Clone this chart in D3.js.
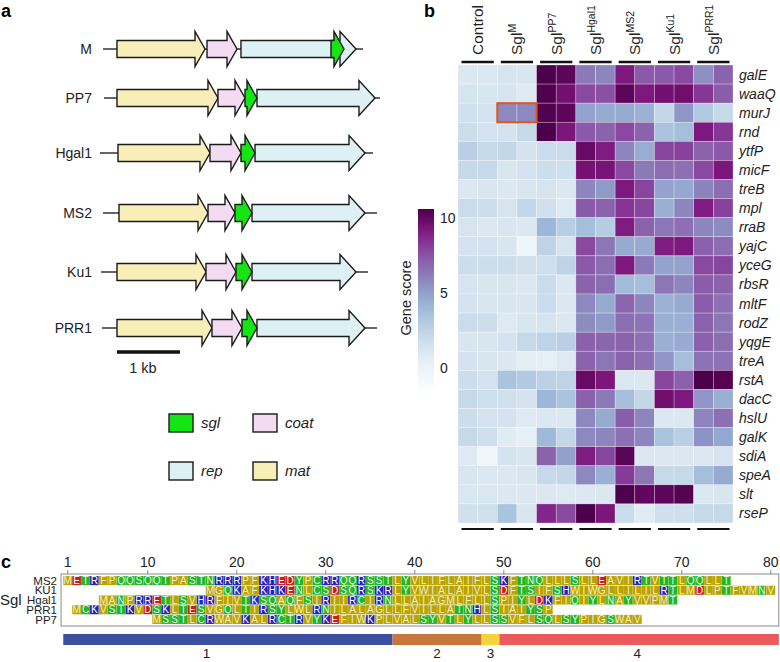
<!DOCTYPE html>
<html><head><meta charset="utf-8">
<script src="https://cdn.jsdelivr.net/npm/d3@7"></script>
<style>
body{margin:0;background:#fff;}
svg{display:block;font-family:"Liberation Sans",Arial,sans-serif;}
</style></head><body>
<svg id="fig" width="780" height="662"></svg>
<script>
// ================= DATA =================
// ---- Panel a: genome maps (bp, relative to genome start) ----
const phages = ["M","PP7","Hgal1","MS2","Ku1","PRR1"];
const genomeStart = [0, 16, -48, 0, -32, -16];
const genomeEnd   = [4127, 4397, 4286, 4349, 4206, 4349];
const matGene  = [[222,1619],[222,1825],[238,1698],[254,1667],[222,1635],[222,1730]];
const coatGene = [[1651,2127],[1825,2254],[1698,2190],[1667,2095],[1635,2111],[1730,2206]];
const repGene  = [[2190,4016],[2444,4317],[2413,4159],[2365,4159],[2365,4016],[2444,4159]];
const sglGene  = [[3619,3825],[2254,2444],[2190,2413],[2095,2365],[2111,2365],[2206,2444]];
const scaleBarBp = [222, 1222];
const legendGenes = ["sgl","coat","rep","mat"];

// ---- Panel b: heatmap (gene score, 2 replicates per condition) ----
const genes = ["galE","waaQ","murJ","rnd","ytfP","micF","treB","mpl","rraB","yajC","yceG","rbsR",
  "mltF","rodZ","yqgE","treA","rstA","dacC","hslU","galK","sdiA","speA","slt","rseP"];
const conditions = ["Control","M","PP7","Hgal1","MS2","Ku1","PRR1"];
const scoreControl = [[1.0,1.0],[1.3,1.2],[1.6,1.4],[1.8,1.4],[2.7,2.1],[2.1,2.1],[1.0,1.2],[1.9,1.8],[1.3,1.0],[1.4,1.4],[1.8,1.8],[1.3,1.2],
  [1.4,1.2],[1.9,1.8],[1.2,1.2],[1.4,1.2],[1.8,1.4],[2.1,1.7],[1.8,1.4],[2.1,1.7],[0.9,-0.5],[1.2,1.0],[1.1,1.1],[1.6,1.6]];
const scoreM = [[1.3,1.2],[1.3,0.9],[5.8,5.8],[1.4,2.1],[2.2,1.4],[1.2,1.4],[1.0,1.2],[1.3,2.2],[1.2,1.0],[1.2,-0.4],[1.8,1.6],[1.2,1.0],
  [1.2,1.2],[0.9,1.2],[1.4,2.1],[1.0,0.5],[3.4,3.1],[1.6,1.4],[1.4,0.9],[0.7,0.4],[1.4,1.2],[1.0,1.2],[1.0,1.0],[3.4,1.2]];
const scorePP7 = [[10.6,10.2],[10.5,9.6],[10.5,10.2],[10.6,9.3],[1.9,1.9],[1.8,1.7],[1.3,1.0],[1.6,0.9],[4.1,2.8],[2.5,1.3],[1.7,2.5],[1.9,1.0],
  [1.9,1.0],[1.3,1.0],[2.5,2.7],[0.4,0.9],[2.6,2.5],[4.1,3.4],[1.0,1.0],[4.0,2.2],[7.0,5.0],[2.1,2.2],[1.0,0.9],[8.8,7.8]];
const scoreHgal1 = [[6.3,5.9],[7.8,7.6],[4.9,4.6],[7.3,7.0],[9.9,9.1],[9.5,9.4],[5.9,5.2],[7.3,7.0],[3.7,2.9],[7.8,6.4],[7.3,6.7],[7.0,6.7],
  [5.8,4.6],[5.7,5.2],[7.1,6.9],[7.0,6.4],[9.9,9.3],[7.1,6.3],[5.8,4.6],[5.8,5.9],[9.1,7.9],[5.8,4.4],[1.0,1.0],[10.6,9.3]];
const scoreMS2 = [[9.2,7.3],[10.2,9.2],[4.6,4.3],[7.8,7.0],[5.9,4.5],[7.8,6.3],[9.2,7.9],[8.4,7.9],[9.1,7.0],[4.6,4.6],[9.2,6.3],[3.9,3.7],
  [6.9,5.9],[6.7,6.5],[7.0,6.6],[7.0,6.6],[1.1,1.0],[3.7,2.2],[7.2,5.9],[6.6,5.9],[10.3,1.0],[8.2,6.4],[10.6,10.1],[1.9,0.7]];
const scoreKu1 = [[7.3,7.8],[9.6,9.7],[2.2,5.4],[3.4,3.7],[7.9,8.0],[6.7,6.6],[4.9,4.7],[4.4,5.9],[6.4,6.6],[9.1,9.2],[4.9,4.9],[6.4,5.9],
  [4.3,4.6],[4.4,4.4],[4.4,4.6],[5.4,3.7],[7.9,7.1],[9.7,9.2],[1.0,1.0],[3.4,2.7],[1.0,1.0],[2.1,2.1],[10.2,10.4],[1.7,1.7]];
const scorePRR1 = [[5.6,7.0],[8.3,7.2],[3.1,2.1],[9.2,8.3],[7.0,7.3],[7.8,9.3],[6.0,6.7],[9.1,8.0],[5.9,5.7],[7.1,6.7],[7.8,7.9],[7.2,7.0],
  [7.2,6.6],[7.0,6.4],[7.1,6.7],[6.5,6.5],[10.6,10.4],[5.4,4.4],[5.9,6.6],[5.5,4.7],[1.0,1.3],[3.7,4.6],[1.0,1.2],[2.1,2.1]];
const highlightGene = "murJ", highlightCondition = "M";
const colorTicks = [0, 5, 10];
const scoreDomain = [-1.3, 10.6];

// ---- Panel c: Sgl alignment ----
const sglNames = ["MS2","KU1","Hgal1","PRR1","PP7"];
const sglStart = [1, 17, 5, 2, 11];
const sglSeq = [
  "METRFPQQSQQTPASTNRRRPFKHEDYPCRRQQRSSTLYVLIFLAIFLSKFTNQLLLSLLEAVIRTVTTLQQLLT",
  "MGQKAFKHKENLCSDSQRSKRLYVWIALAIVLSDFTSIFSHWIWGLLILILRTLMDLPTFVMNV",
  "MANPRRETLSVHRFIVTKSQAQFSIRIIRCIRNLLAIAGMLFLLSPIYLDKFIQIYLNAYVVPMT",
  "MCKVSTKVDSKLTESVGQLTIRSYLWLRNILALAGLLFVILLATNHLSIAIYSP",
  "MSSTLCRWAVKALRCTRVYKEFIWKPLVALSYVTLYLLSSVFLSQLSYPIGSWAV"];
const posTicks = [1,10,20,30,40,50,60,70,80];
const domainNames = ["1","2","3","4"];
const domainStart = [0.5, 37.5, 47.5, 49.5];
const domainEnd   = [37.5, 47.5, 49.5, 80.9];
const domainLabelAt = [16.6, 42.5, 48.5, 65];

// ================= DRAWING =================
const svg = d3.select("#fig");
svg.append("rect").attr("width",780).attr("height",662).attr("fill","#fff");

// panel letters
[["a",1,17],["b",424,17],["c",1,568]].forEach(([t,x,y]) =>
  svg.append("text").attr("x",x).attr("y",y).attr("font-size",18).attr("font-weight","bold").text(t));

// ---------- Panel a ----------
const geneFill = {mat:"#f8efb8", coat:"#f3dcf1", rep:"#ddf1f5", sgl:"#14e614"};
const headLen = {mat:10, coat:10, rep:16, sgl:10};
const gx = d3.scaleLinear().domain([0,1000]).range([103,166]);
const gy = d3.scaleLinear().domain(d3.range(phages.length)).range([49,98,153,213,272,328]);
const bodyH = 8.5, headH = 17.5;
function arrowPath(x0, x1, y, L){
  L = Math.min(L, x1 - x0);
  const xb = x1 - L;
  return `M${x0},${y-bodyH}L${xb},${y-bodyH}L${xb},${y-headH}L${x1},${y}L${xb},${y+headH}L${xb},${y+bodyH}L${x0},${y+bodyH}Z`;
}
const ga = svg.append("g");
phages.forEach((p,i) => {
  const y = gy(i);
  ga.append("line").attr("x1",gx(genomeStart[i])).attr("x2",gx(genomeEnd[i]))
    .attr("y1",y).attr("y2",y).attr("stroke","#333").attr("stroke-width",1.3);
  ga.append("text").attr("x",92).attr("y",y).attr("dy","0.36em").attr("text-anchor","end")
    .attr("font-size",14).attr("fill","#222").text(p);
  [["mat",matGene],["coat",coatGene],["rep",repGene],["sgl",sglGene]].forEach(([g,arr]) => {
    ga.append("path").attr("d",arrowPath(gx(arr[i][0]),gx(arr[i][1]),y,headLen[g]))
      .attr("fill",geneFill[g]).attr("stroke","#1a1a1a").attr("stroke-width",1.4)
      .attr("stroke-linejoin","miter");
  });
});
// scale bar
ga.append("line").attr("x1",gx(scaleBarBp[0])).attr("x2",gx(scaleBarBp[1]))
  .attr("y1",352).attr("y2",352).attr("stroke","#111").attr("stroke-width",3.6);
ga.append("text").attr("x",143).attr("y",373).attr("text-anchor","middle").attr("font-size",14.5)
  .attr("fill","#222").text("1 kb");
// legend
legendGenes.forEach((g,k) => {
  const lx = k % 2 === 0 ? 169 : 253;
  const ly = k < 2 ? 414 : 462;
  ga.append("rect").attr("x",lx).attr("y",ly).attr("width",24).attr("height",18)
    .attr("fill",geneFill[g]).attr("stroke","#1a1a1a").attr("stroke-width",1.4);
  ga.append("text").attr("x",lx+32).attr("y",ly+9).attr("dy","0.36em").attr("font-size",15)
    .attr("font-style","italic").attr("fill","#222").text(g);
});

// ---------- Panel b ----------
const allScores = [scoreControl, scoreM, scorePP7, scoreHgal1, scoreMS2, scoreKu1, scorePRR1];
const columns = [];
conditions.forEach((c,ci) => [0,1].forEach(r => columns.push({cond:c, ci, r, key:c+"_"+r})));
const hx = d3.scaleBand().domain(columns.map(d=>d.key)).range([458,733]);
const hy = d3.scaleBand().domain(genes).range([65,523]);
const gammaT = 1.2;
const color = v => {
  const t = Math.max(0, Math.min(1, (v - scoreDomain[0])/(scoreDomain[1]-scoreDomain[0])));
  return d3.interpolateBuPu(Math.pow(t, gammaT));
};
const cells = [];
columns.forEach(col => genes.forEach((g,gi) => cells.push({col, gene:g, v: allScores[col.ci][gi][col.r]})));
const gb = svg.append("g");
gb.selectAll("rect.cell").data(cells).join("rect").attr("class","cell")
  .attr("x", d=>hx(d.col.key)).attr("y", d=>hy(d.gene))
  .attr("width", hx.bandwidth()).attr("height", hy.bandwidth())
  .attr("fill", d=>color(d.v)).attr("stroke","#fff").attr("stroke-opacity",0.45).attr("stroke-width",0.6);
// highlight box
gb.append("rect")
  .attr("x", hx(highlightCondition+"_0")).attr("y", hy(highlightGene))
  .attr("width", hx.bandwidth()*2).attr("height", hy.bandwidth())
  .attr("fill","none").attr("stroke","#e0561e").attr("stroke-width",2);
// gene labels
gb.selectAll("text.gene").data(genes).join("text").attr("class","gene")
  .attr("x",739).attr("y",d=>hy(d)+hy.bandwidth()/2).attr("dy","0.36em")
  .attr("font-size",14).attr("font-style","italic").attr("fill","#222").text(d=>d);
// group headers & bars
const groupW = hx.bandwidth()*2;
conditions.forEach((c,ci) => {
  const x0 = hx(c+"_0"), cx = x0 + groupW/2;
  const t = gb.append("text").attr("transform",`translate(${cx+5.5},55) rotate(-90)`)
    .attr("font-size",15.5).attr("fill","#222");
  if (c === "Control") t.text("Control");
  else {
    t.append("tspan").text("Sgl");
    t.append("tspan").attr("dy",-6).attr("font-size",10.5).text(c);
  }
  [62, 529].forEach((yy,k) => gb.append("line").attr("x1",x0+3.5).attr("x2",x0+groupW-3.5)
    .attr("y1",yy).attr("y2",yy).attr("stroke","#111").attr("stroke-width",k===0?2.6:2.2));
});
// colorbar
const cbY = d3.scaleLinear().domain(scoreDomain).range([387,209]);
const defs = svg.append("defs");
const lg = defs.append("linearGradient").attr("id","cbar").attr("x1",0).attr("y1",1).attr("x2",0).attr("y2",0);
d3.range(0,1.0001,0.05).forEach(f => lg.append("stop").attr("offset",f)
  .attr("stop-color", color(scoreDomain[0] + f*(scoreDomain[1]-scoreDomain[0]))));
gb.append("rect").attr("x",418).attr("y",cbY(scoreDomain[1])).attr("width",16)
  .attr("height",cbY(scoreDomain[0])-cbY(scoreDomain[1])).attr("fill","url(#cbar)");
colorTicks.forEach(v => gb.append("text").attr("x",440).attr("y",cbY(v)).attr("dy","0.36em")
  .attr("font-size",14).attr("fill","#222").text(v));
gb.append("text").attr("transform",`translate(411,${(cbY(scoreDomain[0])+cbY(scoreDomain[1]))/2}) rotate(-90)`)
  .attr("text-anchor","middle").attr("font-size",14.5).attr("fill","#222").text("Gene score");

// ---------- Panel c ----------
const px = d3.scaleLinear().domain([1,80]).range([67.7,770.8]);
const py = d3.scaleBand().domain(sglNames).range([576,624]).paddingInner(0.06);
const cw = px(2) - px(1);
const aaClass = a => "GAVLIMFWP".includes(a) ? "np" : "STCYNQ".includes(a) ? "po" : "KRH".includes(a) ? "bas" : "ac";
const aaFill = {np:"#b9a300", po:"#23b523", bas:"#2323b9", ac:"#c81d1d"};
const aaText = {np:"#f6efc4", po:"#e6f8e6", bas:"#ffffff", ac:"#ffffff"};
const gc = svg.append("g");
gc.append("rect").attr("x",px(0.25)).attr("y",574).attr("width",px(80.9)-px(0.25)).attr("height",52)
  .attr("fill","none").attr("stroke","#8a8a8a").attr("stroke-width",1);
posTicks.forEach(p => {
  gc.append("line").attr("x1",px(p)).attr("x2",px(p)).attr("y1",570).attr("y2",574)
    .attr("stroke","#8a8a8a").attr("stroke-width",1);
  gc.append("text").attr("x",px(p)).attr("y",567).attr("text-anchor","middle")
    .attr("font-size",14).attr("fill","#222").text(p);
});
const residues = [];
sglNames.forEach((n,i) => sglSeq[i].split("").forEach((a,j) => residues.push({name:n, aa:a, pos:sglStart[i]+j})));
gc.selectAll("rect.aa").data(residues).join("rect").attr("class","aa")
  .attr("x",d=>px(d.pos)-cw/2).attr("y",d=>py(d.name)).attr("width",cw).attr("height",py.bandwidth())
  .attr("fill",d=>aaFill[aaClass(d.aa)]).attr("stroke","#fff").attr("stroke-opacity",0.25).attr("stroke-width",0.5);
gc.selectAll("text.aa").data(residues).join("text").attr("class","aa")
  .attr("x",d=>px(d.pos)).attr("y",d=>py(d.name)+py.bandwidth()/2).attr("dy","0.36em")
  .attr("text-anchor","middle").attr("font-size",10).attr("fill",d=>aaText[aaClass(d.aa)]).text(d=>d.aa);
gc.selectAll("text.sname").data(sglNames).join("text").attr("class","sname")
  .attr("x",57).attr("y",d=>py(d)+py.bandwidth()/2).attr("dy","0.36em").attr("text-anchor","end")
  .attr("font-size",11.5).attr("fill","#222").text(d=>d);
gc.append("text").attr("x",0).attr("y",py("Hgal1")+py.bandwidth()/2).attr("dy","0.36em")
  .attr("font-size",15).attr("fill","#222").text("Sgl");
const domainColor = ["#3b50a0","#c8773c","#f3d43a","#eb5a5d"];
domainNames.forEach((d,k) => {
  gc.append("rect").attr("x",px(domainStart[k])).attr("y",634).attr("width",px(domainEnd[k])-px(domainStart[k]))
    .attr("height",11).attr("fill",domainColor[k]);
  gc.append("text").attr("x",px(domainLabelAt[k])).attr("y",658).attr("text-anchor","middle")
    .attr("font-size",13.5).attr("fill","#222").text(d);
});
</script>
</body></html>
